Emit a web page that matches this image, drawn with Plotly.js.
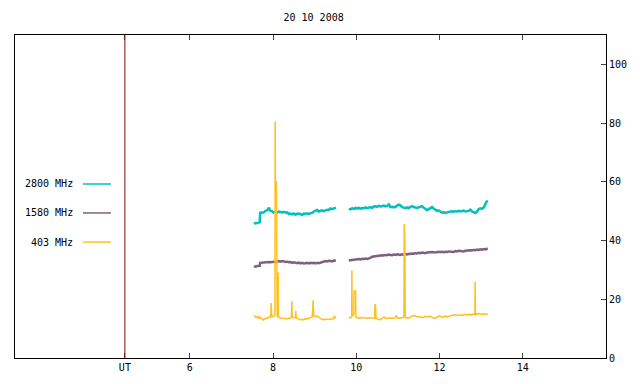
<!DOCTYPE html>
<html>
<head>
<meta charset="utf-8">
<script src="https://cdn.plot.ly/plotly-3.0.1.min.js"></script>
<style>html,body{margin:0;padding:0;background:#fff;}#chart{width:640px;height:384px;}</style>
</head>
<body>
<div id="chart"></div>
<script>
// ---- data (UT hours, solar flux units) ----
const title = "20 10 2008";
const seriesNames = ["2800 MHz", "1580 MHz", "403 MHz"];
const utLine = 4.44;
const xTickVals = [4.44, 6, 8, 10, 12, 14];
const xTickText = ["UT", "6", "8", "10", "12", "14"];
const yTickVals = [0, 20, 40, 60, 80, 100];

const t2800 = [7.54,7.58,7.62,7.66,7.68,7.69,7.73,7.78,7.82,7.86,7.90,7.93,7.97,8.01,8.06,8.10,8.14,8.18,8.22,8.26,8.30,8.34,8.38,8.42,8.46,8.50,8.54,8.58,8.62,8.66,8.70,8.74,8.78,8.82,8.86,8.90,8.94,8.98,9.02,9.06,9.10,9.14,9.18,9.22,9.26,9.30,9.34,9.38,9.42,9.46,9.51,
 9.65,
 9.82,9.86,9.90,9.94,9.98,10.02,10.06,10.10,10.14,10.18,10.22,10.26,10.30,10.34,10.38,10.42,10.46,10.50,10.54,10.58,10.62,10.66,10.70,10.74,10.78,10.82,10.86,10.90,10.94,10.98,11.02,11.06,11.10,11.14,11.18,11.22,11.26,11.30,11.34,11.38,11.42,11.46,11.50,11.54,11.58,11.62,11.66,11.70,11.74,11.78,11.82,11.86,11.90,11.94,11.98,12.02,12.06,12.10,12.14,12.18,12.22,12.26,12.30,12.34,12.38,12.42,12.46,12.50,12.54,12.58,12.62,12.66,12.70,12.74,12.78,12.82,12.86,12.90,12.94,12.98,13.02,13.06,13.10,13.13,13.16];
const v2800 = [46.0,45.8,46.0,46.1,46.2,49.4,49.5,49.6,50.1,50.3,51.2,50.2,50.0,49.5,49.8,49.6,49.9,49.7,49.6,49.8,49.5,49.6,49.0,49.2,48.9,49.2,48.8,49.1,49.2,49.0,48.7,49.2,49.1,49.3,49.0,49.3,49.4,49.9,50.1,50.4,49.9,50.0,50.3,50.0,50.2,50.5,50.4,50.9,50.7,51.0,51.2,
 null,
 50.8,50.6,51.0,50.7,51.1,50.9,51.2,50.8,51.1,51.0,51.3,51.0,51.2,51.4,51.1,51.6,51.7,51.5,51.8,51.6,51.7,51.9,51.6,51.8,52.3,51.4,51.5,51.3,51.5,52.0,52.2,52.0,51.4,51.2,51.1,51.3,51.0,51.5,51.7,51.4,51.2,51.1,51.3,51.5,51.7,51.2,50.6,50.3,50.7,51.0,51.4,50.9,50.4,50.1,50.3,49.8,49.5,49.6,49.4,49.6,49.7,49.9,50.0,49.8,50.0,49.9,50.1,49.9,50.0,50.2,49.9,50.0,50.1,50.5,49.9,49.7,49.4,49.8,50.7,51.0,50.8,51.2,52.5,53.2,53.6];

const t1580 = [7.54,7.58,7.62,7.66,7.68,7.69,7.74,7.78,7.82,7.86,7.90,7.94,7.98,8.02,8.06,8.10,8.14,8.18,8.22,8.26,8.30,8.34,8.38,8.42,8.46,8.50,8.54,8.58,8.62,8.66,8.70,8.74,8.78,8.82,8.86,8.90,8.94,8.98,9.02,9.06,9.10,9.14,9.18,9.22,9.26,9.30,9.34,9.38,9.42,9.46,9.51,
 9.65,
 9.82,9.86,9.90,9.94,9.98,10.02,10.06,10.10,10.14,10.18,10.22,10.26,10.30,10.34,10.38,10.42,10.46,10.50,10.54,10.58,10.62,10.66,10.70,10.74,10.78,10.82,10.86,10.90,10.94,10.98,11.02,11.06,11.10,11.14,11.18,11.22,11.26,11.30,11.34,11.38,11.42,11.46,11.50,11.54,11.58,11.62,11.66,11.70,11.74,11.78,11.82,11.86,11.90,11.94,11.98,12.02,12.06,12.10,12.14,12.18,12.22,12.26,12.30,12.34,12.38,12.42,12.46,12.50,12.54,12.58,12.62,12.66,12.70,12.74,12.78,12.82,12.86,12.90,12.94,12.98,13.02,13.06,13.10,13.13,13.16];
const v1580 = [31.3,31.1,31.3,31.2,31.4,32.4,32.5,32.7,32.6,32.8,32.7,32.6,32.7,32.8,32.6,32.9,33.0,32.8,33.0,32.9,32.7,32.8,32.6,32.7,32.4,32.6,32.5,32.3,32.5,32.2,32.4,32.2,32.3,32.4,32.2,32.4,32.3,32.4,32.2,32.4,32.3,32.5,32.6,32.8,33.0,32.9,33.1,33.0,32.9,33.2,33.1,
 null,
 33.2,33.3,33.2,33.3,33.4,33.5,33.7,33.6,33.8,33.7,33.9,33.7,33.8,34.1,34.5,34.6,34.7,34.8,34.7,34.9,35.0,34.9,35.1,35.0,35.2,35.1,35.0,35.2,35.1,35.3,35.2,35.1,35.3,35.2,35.4,35.3,35.5,35.4,35.6,35.5,35.7,35.6,35.8,35.7,35.9,35.8,35.7,35.9,36.0,35.9,36.1,36.0,35.9,36.1,36.0,36.1,36.2,36.0,36.2,36.1,36.3,36.2,36.3,36.1,36.4,36.3,36.5,36.4,36.5,36.3,36.5,36.6,36.5,36.7,36.6,36.8,36.7,36.9,36.8,37.0,36.9,37.1,37.0,37.2,37.3];

const t403 = [7.54,7.56,7.58,7.61,7.63,7.65,7.67,7.69,7.71,7.73,7.75,7.77,7.79,7.81,7.83,7.85,7.87,7.89,7.91,7.93,7.945,7.955,7.965,7.98,8.00,8.02,8.04,8.045,8.049,8.052,8.056,8.080,8.085,8.10,8.115,8.123,8.13,8.15,8.18,8.21,8.24,8.27,8.30,8.33,8.36,8.39,8.42,8.44,8.445,8.452,8.46,8.49,8.52,8.54,8.548,8.555,8.58,8.61,8.64,8.67,8.70,8.73,8.76,8.79,8.82,8.85,8.88,8.91,8.94,8.955,8.964,8.975,9.00,9.03,9.06,9.09,9.12,9.15,9.18,9.21,9.24,9.27,9.30,9.33,9.36,9.39,9.42,9.45,9.47,9.49,9.51,
 9.65,
 9.82,9.84,9.86,9.88,9.89,9.894,9.90,9.93,9.942,9.945,9.985,9.99,10.02,10.05,10.08,10.11,10.14,10.17,10.20,10.23,10.26,10.29,10.32,10.35,10.38,10.41,10.44,10.45,10.465,10.475,10.50,10.53,10.56,10.59,10.62,10.65,10.67,10.70,10.73,10.76,10.79,10.82,10.85,10.88,10.91,10.94,10.96,10.98,11.01,11.04,11.07,11.10,11.13,11.145,11.151,11.157,11.168,11.175,11.20,11.23,11.26,11.29,11.32,11.35,11.38,11.41,11.44,11.47,11.50,11.53,11.56,11.59,11.62,11.65,11.68,11.71,11.74,11.77,11.80,11.83,11.86,11.89,11.92,11.95,11.98,12.01,12.04,12.07,12.10,12.13,12.16,12.19,12.22,12.25,12.28,12.31,12.34,12.37,12.40,12.43,12.46,12.49,12.52,12.55,12.58,12.61,12.64,12.67,12.70,12.73,12.76,12.79,12.82,12.85,12.855,12.862,12.88,12.91,12.94,12.97,13.00,13.03,13.06,13.09,13.12,13.16];
const v403 = [14.6,14.4,13.9,14.1,13.7,14.0,13.5,13.9,13.6,13.2,13.0,12.9,13.3,13.5,13.4,13.6,13.5,13.7,13.9,14.2,14.0,18.7,14.5,14.0,14.1,14.3,14.6,14.8,60.0,80.6,60.0,60.0,14.5,14.2,14.0,29.1,14.2,13.8,13.7,13.4,13.6,13.5,13.3,13.5,13.4,13.6,13.5,13.7,15.7,19.4,13.9,13.8,13.6,13.7,16.0,13.8,13.5,13.3,13.1,13.0,13.2,13.0,13.2,13.4,13.3,13.5,13.6,13.8,14.0,17.1,19.7,14.4,14.2,14.1,14.3,13.9,13.5,13.3,13.1,13.2,13.0,13.3,13.2,13.1,13.3,13.2,13.4,13.3,14.3,13.5,13.4,
 null,
 13.9,13.7,13.6,13.8,14.0,29.9,14.2,14.8,14.8,22.8,22.8,14.0,13.6,13.8,13.5,13.7,13.6,13.8,13.7,13.6,13.5,13.7,13.6,13.5,13.4,13.5,13.6,18.4,17.2,13.6,13.3,13.2,13.0,13.3,13.4,13.6,14.0,13.5,13.4,13.5,13.6,13.5,13.4,13.5,13.6,13.7,14.6,13.8,13.5,13.6,13.8,13.7,13.8,14.2,45.6,40.4,40.4,14.0,13.5,13.7,13.6,13.8,14.0,14.4,14.3,14.5,14.2,14.0,14.1,13.9,13.8,13.9,13.8,14.2,14.1,13.9,14.0,14.3,14.0,13.9,13.6,13.5,13.7,14.1,14.3,14.2,14.0,13.9,14.1,14.3,14.2,14.0,14.1,14.3,14.4,14.6,14.5,14.7,14.6,14.5,14.6,14.7,14.6,14.5,14.8,14.9,14.8,14.7,14.9,14.8,14.6,14.8,15.0,14.8,25.9,15.2,14.8,15.0,15.2,14.9,14.8,15.1,14.9,15.0,14.9,14.9];

// ---- styling ----
const colors = ["#00c0c0", "#806080", "#ffc020"];
const FONT = "DejaVu Sans Mono, monospace";

const traces = [
  {x: t2800, y: v2800, name: seriesNames[0], mode: "lines", line: {color: colors[0], width: 2.5}},
  {x: t1580, y: v1580, name: seriesNames[1], mode: "lines", line: {color: colors[1], width: 2.5}},
  {x: t403, y: v403, name: seriesNames[2], mode: "lines", line: {color: colors[2], width: 1.5}}
];

const legendY = [0.5387, 0.449, 0.359];
const annotations = seriesNames.map((n, i) => ({
  xref: "paper", yref: "paper", x: 0.1015, y: legendY[i], text: n, showarrow: false,
  xanchor: "right", yanchor: "middle", font: {family: FONT, size: 10, color: "#000"}
}));
const shapes = seriesNames.map((n, i) => ({
  type: "line", xref: "paper", yref: "paper", x0: 0.115, x1: 0.1624, y0: legendY[i], y1: legendY[i],
  line: {color: colors[i], width: 1.5}
}));
shapes.push({type: "line", xref: "x", yref: "paper", x0: utLine, x1: utLine, y0: 0, y1: 1,
  line: {color: "#8b0000", width: 1}});

const layout = {
  width: 640, height: 384,
  margin: {l: 15, r: 34, t: 35, b: 26},
  paper_bgcolor: "#fff", plot_bgcolor: "#fff",
  showlegend: false,
  title: {text: title, x: 0.49, xanchor: "center", y: 0.955, yanchor: "middle",
    font: {family: FONT, size: 10, color: "#000"}},
  font: {family: FONT, size: 10, color: "#000"},
  xaxis: {range: [1.8, 16.0], tickvals: xTickVals, ticktext: xTickText, ticks: "inside", ticklen: 5,
    showline: true, linecolor: "#000", linewidth: 1, mirror: "ticks", showgrid: false, zeroline: false,
    tickfont: {family: FONT, size: 10, color: "#000"}},
  yaxis: {range: [0, 110], side: "right", tickvals: yTickVals, ticks: "inside", ticklen: 5,
    showline: true, linecolor: "#000", linewidth: 1, mirror: true, showgrid: false, zeroline: false,
    tickfont: {family: FONT, size: 10, color: "#000"}},
  annotations: annotations,
  shapes: shapes
};

Plotly.newPlot("chart", traces, layout, {displayModeBar: false, staticPlot: true});
</script>
</body>
</html>
